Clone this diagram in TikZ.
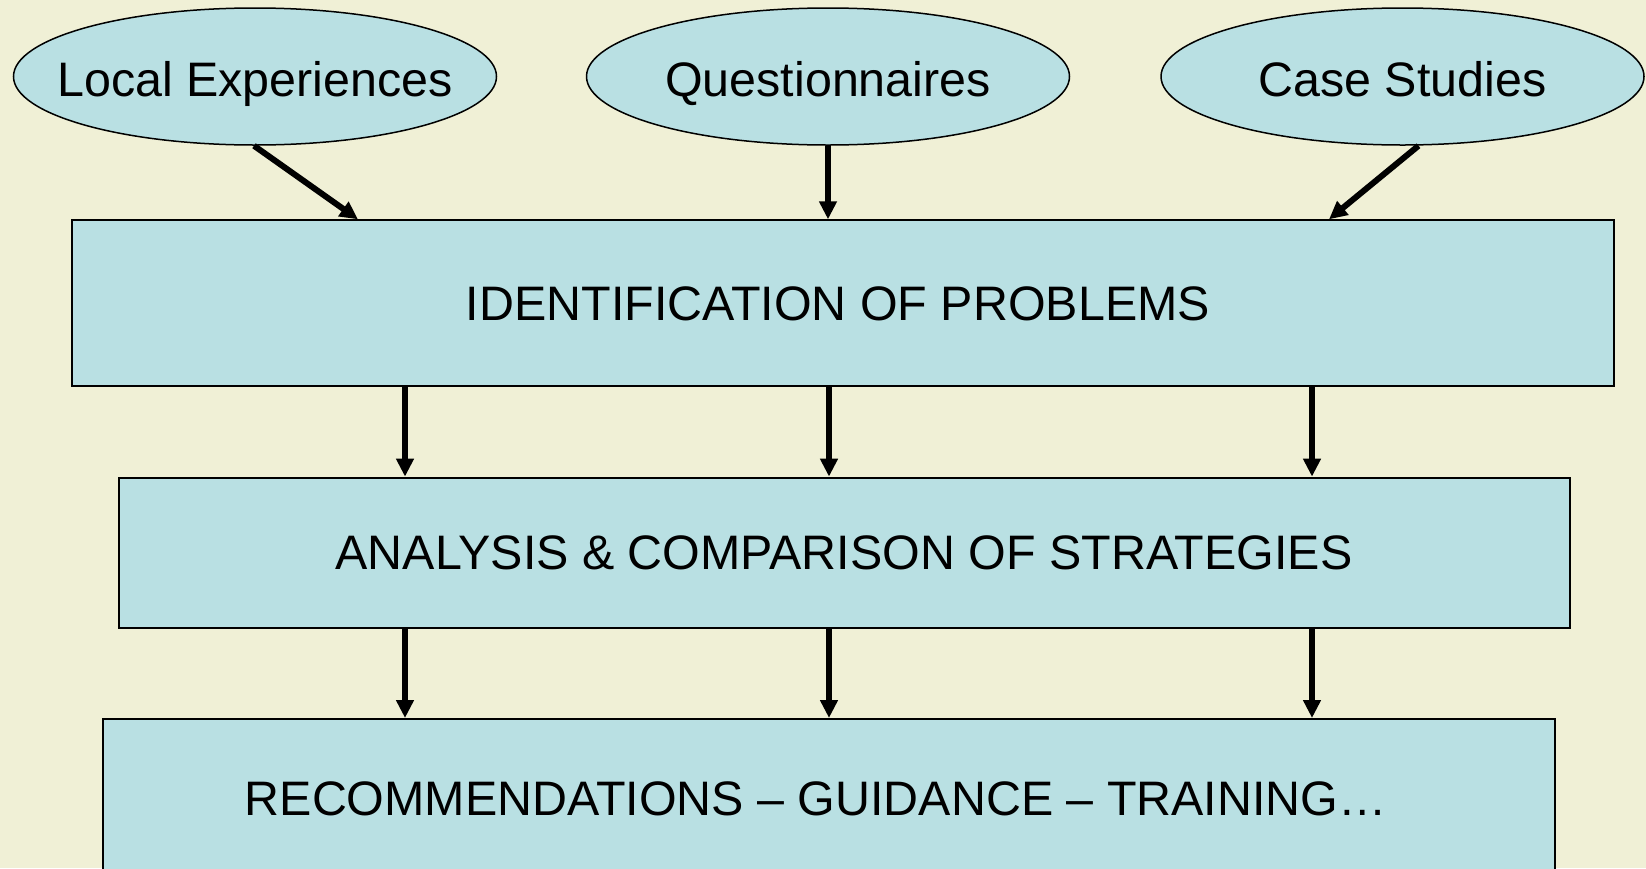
\documentclass[tikz,border=0pt]{standalone}
\usepackage{fontspec}
\setmainfont{Liberation Sans}
\usetikzlibrary{shapes.geometric,arrows.meta}
\definecolor{bg}{RGB}{240,240,214}
\definecolor{boxfill}{RGB}{185,224,227}
\tikzset{
  txt/.style={font=\fontsize{48.4}{58}\selectfont, text height=34.6pt, text depth=0pt, inner sep=0pt},
  src/.style={ellipse, draw=black, line width=1.5pt, fill=boxfill, minimum width=483pt, minimum height=137pt, inner sep=0pt,
    label={[txt, yshift=-2.5pt]center:#1}},
  stage/.style={rectangle, draw=black, line width=2pt, fill=boxfill, inner sep=0pt, txt},
  arr/.style={line width=6pt, -{Triangle[length=18pt,width=17pt]}}
}
\begin{document}
\begin{tikzpicture}[x=1pt,y=-1pt]
\useasboundingbox (0,0) rectangle (1646,868);
\clip (0,0) rectangle (1646,868);
\fill[bg] (0,0) rectangle (1646,868);
\node[src={Local Experiences}] (e1) at (255,76.5) {};
\node[src={Questionnaires}] (e2) at (828,76.5) {};
\node[src={Case Studies}] (e3) at (1402.5,76.5) {};
\node[stage, minimum width=1542pt, minimum height=166pt] (b1) at (843.4,303.3) {IDENTIFICATION OF PROBLEMS\hspace*{11pt}};
\node[stage, minimum width=1451pt, minimum height=150pt] (b2) at (844,552.6) {ANALYSIS \& COMPARISON OF STRATEGIES};
\node[stage, minimum width=1452pt, minimum height=158pt] (b3) at (828.8,798) {RECOMMENDATIONS – GUIDANCE – TRAINING…\hspace*{26pt}};
\coordinate (c1) at (405,0);
\coordinate (c2) at (829,0);
\coordinate (c3) at (1312,0);
\coordinate (t1) at (358,0);
\coordinate (t3) at (1329,0);
\draw[arr] ([xshift=-1pt]e1.south) -- (b1.north -| t1);
\draw[arr] (e2.south) -- (b1.north -| e2.south);
\draw[arr] ([xshift=16pt]e3.south) -- (b1.north -| t3);
\foreach \c in {c1,c2,c3}{
  \draw[arr] (b1.south -| \c) -- (b2.north -| \c);
  \draw[arr] (b2.south -| \c) -- (b3.north -| \c);
}
\end{tikzpicture}
\end{document}
